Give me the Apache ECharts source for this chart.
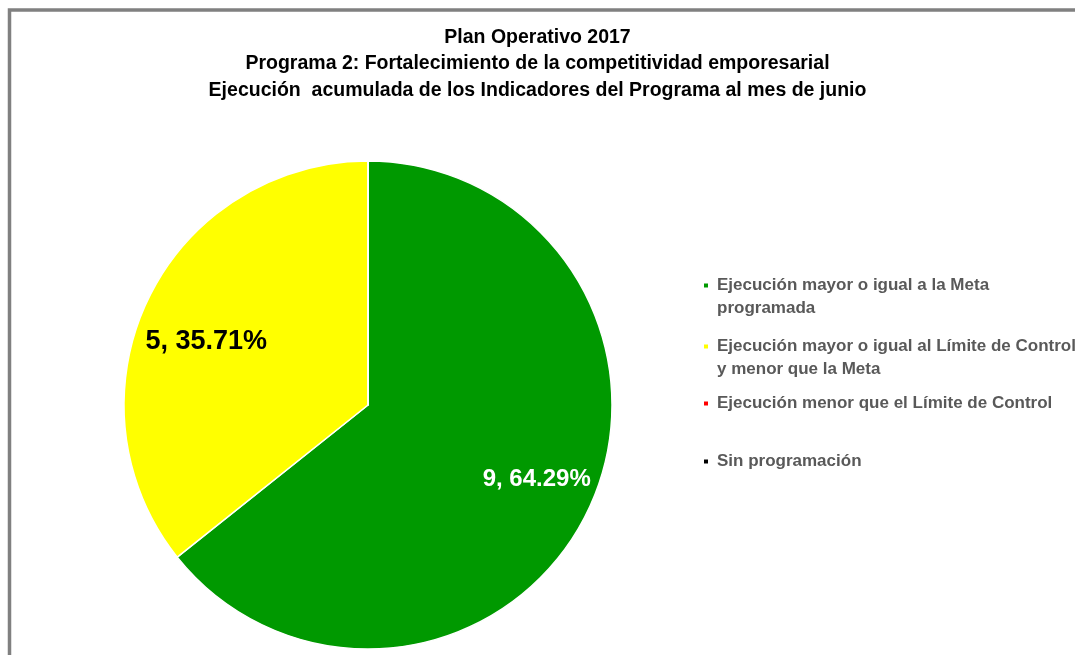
<!DOCTYPE html>
<html>
<head>
<meta charset="utf-8">
<script src="https://cdn.jsdelivr.net/npm/echarts@6/dist/echarts.min.js"></script>
<style>html,body{margin:0;padding:0;background:#fff}#c{width:1075px;height:655px}</style>
</head>
<body>
<div id="c"></div>
<script>
var titleLines = ['Plan Operativo 2017', 'Programa 2: Fortalecimiento de la competitividad emporesarial', 'Ejecución  acumulada de los Indicadores del Programa al mes de junio'];
var categories = ['Ejecución mayor o igual a la Meta programada', 'Ejecución mayor o igual al Límite de Control y menor que la Meta', 'Ejecución menor que el Límite de Control', 'Sin programación'];
var legendLines = [['Ejecución mayor o igual a la Meta', 'programada'], ['Ejecución mayor o igual al Límite de Control', 'y menor que la Meta'], ['Ejecución menor que el Límite de Control'], ['Sin programación']];
var values = [9, 5, 0, 0];
var percents = ['64.29%', '35.71%', '0.00%', '0.00%'];
var colors = ['#009900', '#FFFF00', '#FF0000', '#000000'];
var labelColors = ['#ffffff', '#000000', '#000000', '#000000'];

var FONT = '"Liberation Sans", Arial, sans-serif';
var chart = echarts.init(document.getElementById('c'), null, {renderer: 'canvas'});

var labelOffsets = [[-1, 3], [8, 8], [0, 0], [0, 0]];
var labelSizes = [24, 27, 24, 24];

var data = categories.map(function (n, i) {
  return {name: n, value: values[i], itemStyle: {color: colors[i]}};
});
var labelData = categories.map(function (n, i) {
  return {
    name: n, value: values[i],
    label: {color: labelColors[i], fontSize: labelSizes[i], offset: labelOffsets[i]}
  };
});

var legendTops = [251, 312, 392, 450];
var legends = categories.map(function (n, i) {
  var two = legendLines[i].length > 1;
  return {
    show: true, orient: 'vertical', left: 702, top: legendTops[i], padding: 0,
    itemWidth: 6, itemHeight: 6, icon: 'rect', selectedMode: false,
    data: [n],
    formatter: function () { return two ? ' \n' + legendLines[i].join('\n') : legendLines[i][0]; },
    textStyle: {fontFamily: FONT, fontSize: 17, fontWeight: 'bold', color: '#595959', lineHeight: 23, padding: [0, 0, 0, 3]}
  };
});

chart.setOption({
  backgroundColor: '#ffffff',
  animation: false,
  title: {
    text: titleLines.join('\n'), left: 'center', top: 24, padding: [0, 0, 0, 4],
    textStyle: {fontFamily: FONT, fontSize: 19.5, fontWeight: 'bold', color: '#000', lineHeight: 26.5}
  },
  legend: legends,
  graphic: [{
    type: 'rect', silent: true, z: 100,
    shape: {x: 9.5, y: 10, width: 1300, height: 900},
    style: {fill: 'none', stroke: '#808080', lineWidth: 3.5}
  }],
  series: [{
    type: 'pie', center: [368, 405], radius: [0, 244], startAngle: 90, clockwise: true,
    data: data, label: {show: false}, labelLine: {show: false},
    itemStyle: {borderColor: '#ffffff', borderWidth: 1.5},
    emphasis: {disabled: true}, silent: true
  }, {
    type: 'pie', center: [368, 405], radius: [118, 244], startAngle: 93, clockwise: true,
    data: labelData, silent: true, emphasis: {disabled: true},
    itemStyle: {color: 'rgba(0,0,0,0)', borderWidth: 0},
    labelLine: {show: false},
    label: {
      show: true, position: 'inside', fontFamily: FONT, fontWeight: 'bold',
      formatter: function (p) { return p.value === 0 ? '' : p.value + ', ' + percents[p.dataIndex]; }
    }
  }]
});
</script>
</body>
</html>
